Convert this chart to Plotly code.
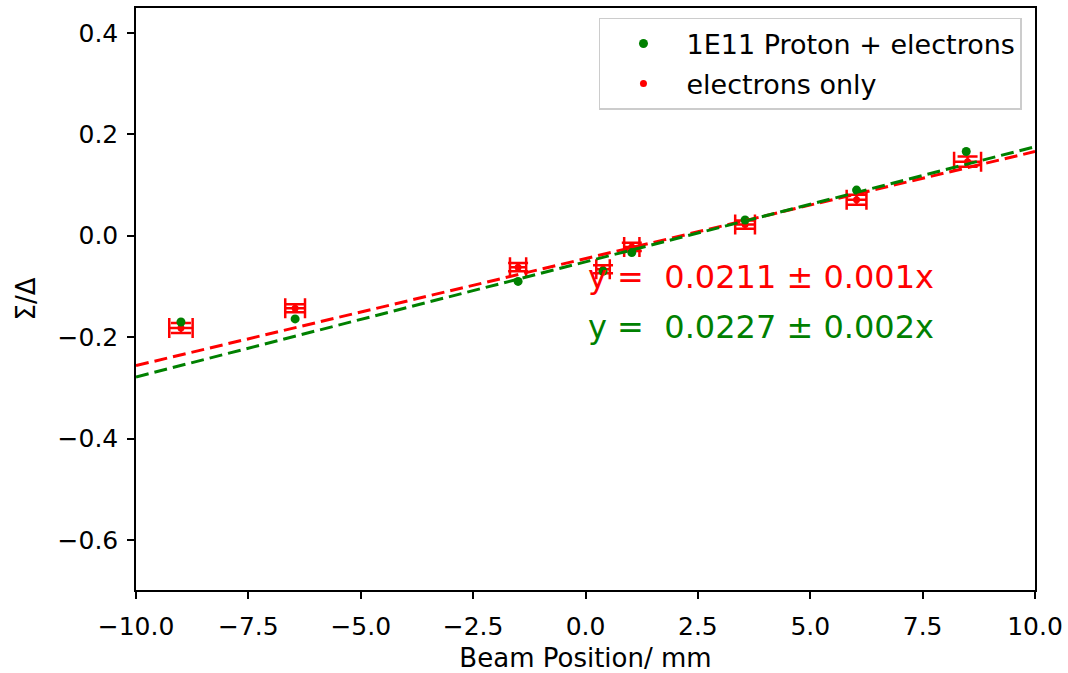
import numpy as np
import plotly.graph_objects as go

# Data
x_green = [-9.0, -6.46, -1.50, 0.39, 1.03, 3.55, 6.03, 8.47]
y_green = [-0.170, -0.164, -0.090, -0.070, -0.033, 0.031, 0.090, 0.166]

x_red = [-9.0, -6.46, -1.50, 0.39, 1.03, 3.55, 6.03, 8.50]
y_red = [-0.182, -0.143, -0.062, -0.066, -0.022, 0.022, 0.071, 0.146]
xerr_red = [0.26, 0.22, 0.18, 0.15, 0.17, 0.22, 0.22, 0.30]
yerr_red = [0.010, 0.008, 0.008, 0.008, 0.008, 0.008, 0.010, 0.010]

slope_red, icpt_red = 0.0211, -0.045
slope_green, icpt_green = 0.0227, -0.0515

x_fit = np.linspace(-10, 10, 50)

FONT = "DejaVu Sans"

fig = go.Figure()

fig.add_trace(go.Scatter(
    x=x_red, y=y_red, mode="markers", name="electrons only",
    marker=dict(color="red", size=7),
    error_x=dict(type="data", array=xerr_red, color="red", thickness=2.5, width=10),
    error_y=dict(type="data", array=yerr_red, color="red", thickness=2.5, width=10),
    legendrank=2, legendgroup="b",
))
fig.add_trace(go.Scatter(
    x=x_green, y=y_green, mode="markers", name="1E11 Proton + electrons",
    marker=dict(color="green", size=9),
    legendrank=1, legendgroup="a",
))
fig.add_trace(go.Scatter(
    x=x_fit, y=slope_red * x_fit + icpt_red, mode="lines", showlegend=False,
    line=dict(color="red", width=3, dash="13px,6px"),
))
fig.add_trace(go.Scatter(
    x=x_fit, y=slope_green * x_fit + icpt_green, mode="lines", showlegend=False,
    line=dict(color="green", width=3, dash="13px,6px"),
))

fig.add_annotation(x=0.0, y=-0.081, xref="x", yref="y", xanchor="left", yanchor="middle",
                   text="y =  0.0211 ± 0.001x", showarrow=False,
                   font=dict(family=FONT, size=32, color="red"))
fig.add_annotation(x=0.0, y=-0.179, xref="x", yref="y", xanchor="left", yanchor="middle",
                   text="y =  0.0227 ± 0.002x", showarrow=False,
                   font=dict(family=FONT, size=32, color="green"))

axis_common = dict(
    showline=True, linecolor="black", linewidth=1.5, mirror=True,
    ticks="outside", ticklen=7, tickwidth=1.5, tickcolor="black",
    showgrid=False, zeroline=False, automargin=False,
    tickfont=dict(family=FONT, size=25, color="black"),
)

fig.update_xaxes(range=[-10, 10], tickvals=[-10, -7.5, -5, -2.5, 0, 2.5, 5, 7.5, 10],
                 ticktext=["−10.0", "−7.5", "−5.0", "−2.5", "0.0", "2.5", "5.0", "7.5", "10.0"],
                 ticklabelstandoff=6,
                 title=dict(text="Beam Position/ mm", font=dict(family=FONT, size=26, color="black"), standoff=10),
                 **axis_common)
fig.update_yaxes(range=[-0.6985, 0.449], tickvals=[-0.6, -0.4, -0.2, 0.0, 0.2, 0.4],
                 ticktext=["−0.6", "−0.4", "−0.2", "0.0", "0.2", "0.4"],
                 ticklabelstandoff=4,
                 title=dict(text="Σ/Δ", font=dict(family=FONT, size=26, color="black"), standoff=14),
                 **axis_common)

fig.update_layout(
    width=1068, height=673,
    margin=dict(l=136, r=33, t=8, b=83),
    plot_bgcolor="white", paper_bgcolor="white",
    font=dict(family=FONT, size=26, color="black"),
    legend=dict(x=0.9855, y=0.983, xanchor="right", yanchor="top",
                bordercolor="#cccccc", borderwidth=1.5, bgcolor="white",
                font=dict(family=FONT, size=27), tracegroupgap=2,
                traceorder="grouped", itemwidth=76),
)

fig.write_html("out.html")
